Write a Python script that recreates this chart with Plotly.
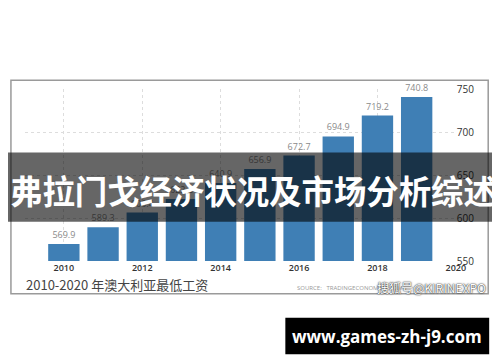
import plotly.graph_objects as go

years = [2010, 2011, 2012, 2013, 2014, 2015, 2016, 2017, 2018, 2019]
wages = [569.9, 589.3, 606.4, 622.2, 640.9, 656.9, 672.7, 694.9, 719.2, 740.8]
x_ticks = [2010, 2012, 2014, 2016, 2018, 2020]
y_ticks = [550, 600, 650, 700, 750]
headline = "弗拉门戈经济状况及市场分析综述"
caption = "2010-2020 年澳大利亚最低工资"
source = "SOURCE:   TRADINGECONOMICS.COM"
watermark = "搜狐号@KIRINEXPO"
url = "www.games-zh-j9.com"

W, H = 500, 362
def px(x):
    return x / W
def py(y):
    return (H - y) / H

fig = go.Figure()
fig.add_trace(go.Bar(
    x=years, y=wages, width=0.8,
    marker=dict(color="#3f7fb5", line=dict(width=0)),
    text=[f"{v:.1f}" for v in wages], textposition="outside",
    textfont=dict(size=9, color="#8a8a8a", family="Open Sans"),
    cliponaxis=False, hoverinfo="skip",
))

fig.update_layout(
    width=W, height=H,
    margin=dict(l=0, r=0, t=0, b=0),
    paper_bgcolor="white", plot_bgcolor="white",
    showlegend=False,
    bargap=0.2,
    xaxis=dict(
        domain=[px(17), px(457)], range=[2009, 2020],
        tickvals=x_ticks, ticktext=[str(t) for t in x_ticks],
        showgrid=True, gridcolor="#dddddd", griddash="dot", gridwidth=1,
        zeroline=False, showline=False, ticks="",
        tickfont=dict(size=9, color="#333333", family="Open Sans", weight=600),
    ),
    yaxis=dict(
        domain=[py(256), py(77)], range=[550, 750], side="right",
        tickvals=y_ticks, ticktext=[str(t) for t in y_ticks],
        showgrid=True, gridcolor="#dddddd", griddash="dot", gridwidth=1,
        zeroline=False, showline=False, ticks="",
        tickfont=dict(size=10, color="#333333", family="Open Sans"),
    ),
)

shapes = [
    dict(type="rect", xref="paper", yref="paper",
         x0=px(3), x1=px(490), y0=py(290), y1=py(68),
         line=dict(color="#9a9a9a", width=1.5), fillcolor="rgba(0,0,0,0)", layer="above"),
    dict(type="rect", xref="paper", yref="paper",
         x0=0, x1=1, y0=py(215), y1=py(143),
         line=dict(width=0), fillcolor="rgba(0,0,0,0.6)", layer="above"),
    dict(type="rect", xref="paper", yref="paper",
         x0=px(283), x1=px(491), y0=py(353), y1=py(315),
         line=dict(width=0), fillcolor="black", layer="above"),
]
fig.update_layout(shapes=shapes)

ann = [
    dict(text=headline, x=px(250), y=py(182), xanchor="center", yanchor="middle",
         font=dict(size=32.4, color="white", family="Noto Sans CJK SC", weight="bold")),
    dict(text=caption, x=px(16), y=py(280), xanchor="left", yanchor="middle",
         font=dict(size=13, color="#444444", family="Noto Sans CJK SC")),
    dict(text=source, x=px(293), y=py(284), xanchor="left", yanchor="middle",
         font=dict(size=6, color="#999999", family="Open Sans")),
    dict(text=watermark, x=px(490), y=py(283), xanchor="right", yanchor="middle",
         font=dict(size=12, color="white", family="Noto Sans CJK SC",
                   shadow="0px 0px 2px #222, 0px 0px 1px #222")),
    dict(text=url, x=px(387), y=py(334), xanchor="center", yanchor="middle",
         font=dict(size=17, color="white", family="Open Sans", weight="bold")),
]
for a in ann:
    a.update(xref="paper", yref="paper", showarrow=False)
fig.update_layout(annotations=ann)

fig.write_html("out.html")
